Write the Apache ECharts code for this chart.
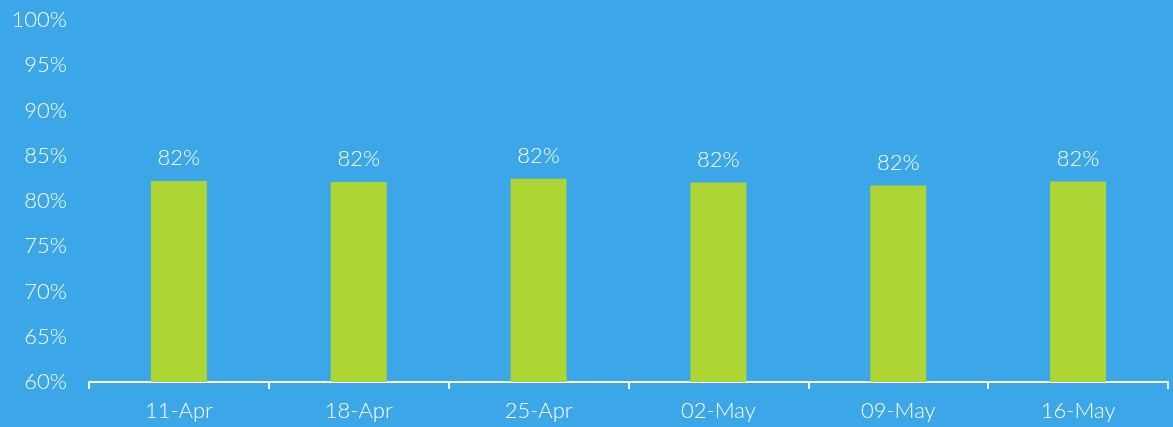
<!DOCTYPE html>
<html>
<head>
<meta charset="utf-8">
<style>
html,body{margin:0;padding:0;background:#3BA6E8;}
#chart{width:1173px;height:427px;}
</style>
<script src="https://cdn.jsdelivr.net/npm/echarts@6/dist/echarts.min.js"></script>
</head>
<body>
<div id="chart"></div>
<script>
var categories = ['11-Apr', '18-Apr', '25-Apr', '02-May', '09-May', '16-May'];
var values = [82.2, 82.1, 82.45, 82.05, 81.7, 82.15];
var yMin = 60, yMax = 100, yStep = 5;

var chart = echarts.init(document.getElementById('chart'));
var font = 'Lato, "Open Sans", sans-serif';
chart.setOption({
  backgroundColor: '#3BA6E8',
  animation: false,
  grid: { left: 89, right: 5, top: 20, bottom: 45, containLabel: false },
  xAxis: {
    type: 'category',
    data: categories,
    axisLine: { lineStyle: { color: '#ffffff', width: 2 } },
    axisTick: { show: true, length: 7, lineStyle: { color: '#ffffff', width: 2 } },
    axisLabel: { color: '#ffffff', fontSize: 22, fontWeight: 300, fontFamily: font, margin: 18 }
  },
  yAxis: {
    type: 'value',
    min: yMin, max: yMax, interval: yStep,
    axisLine: { show: false },
    axisTick: { show: false },
    splitLine: { show: false },
    axisLabel: { color: '#ffffff', fontSize: 22, fontWeight: 300, fontFamily: font, margin: 22,
      formatter: function (v) { return v + '%'; } }
  },
  series: [{
    type: 'bar',
    data: values,
    barWidth: 56,
    itemStyle: { color: '#ADD534' },
    label: {
      show: true, position: 'top', distance: 12,
      color: '#ffffff', fontSize: 22, fontWeight: 300, fontFamily: font,
      formatter: function (p) { return Math.round(p.value) + '%'; }
    }
  }]
});
</script>
</body>
</html>
